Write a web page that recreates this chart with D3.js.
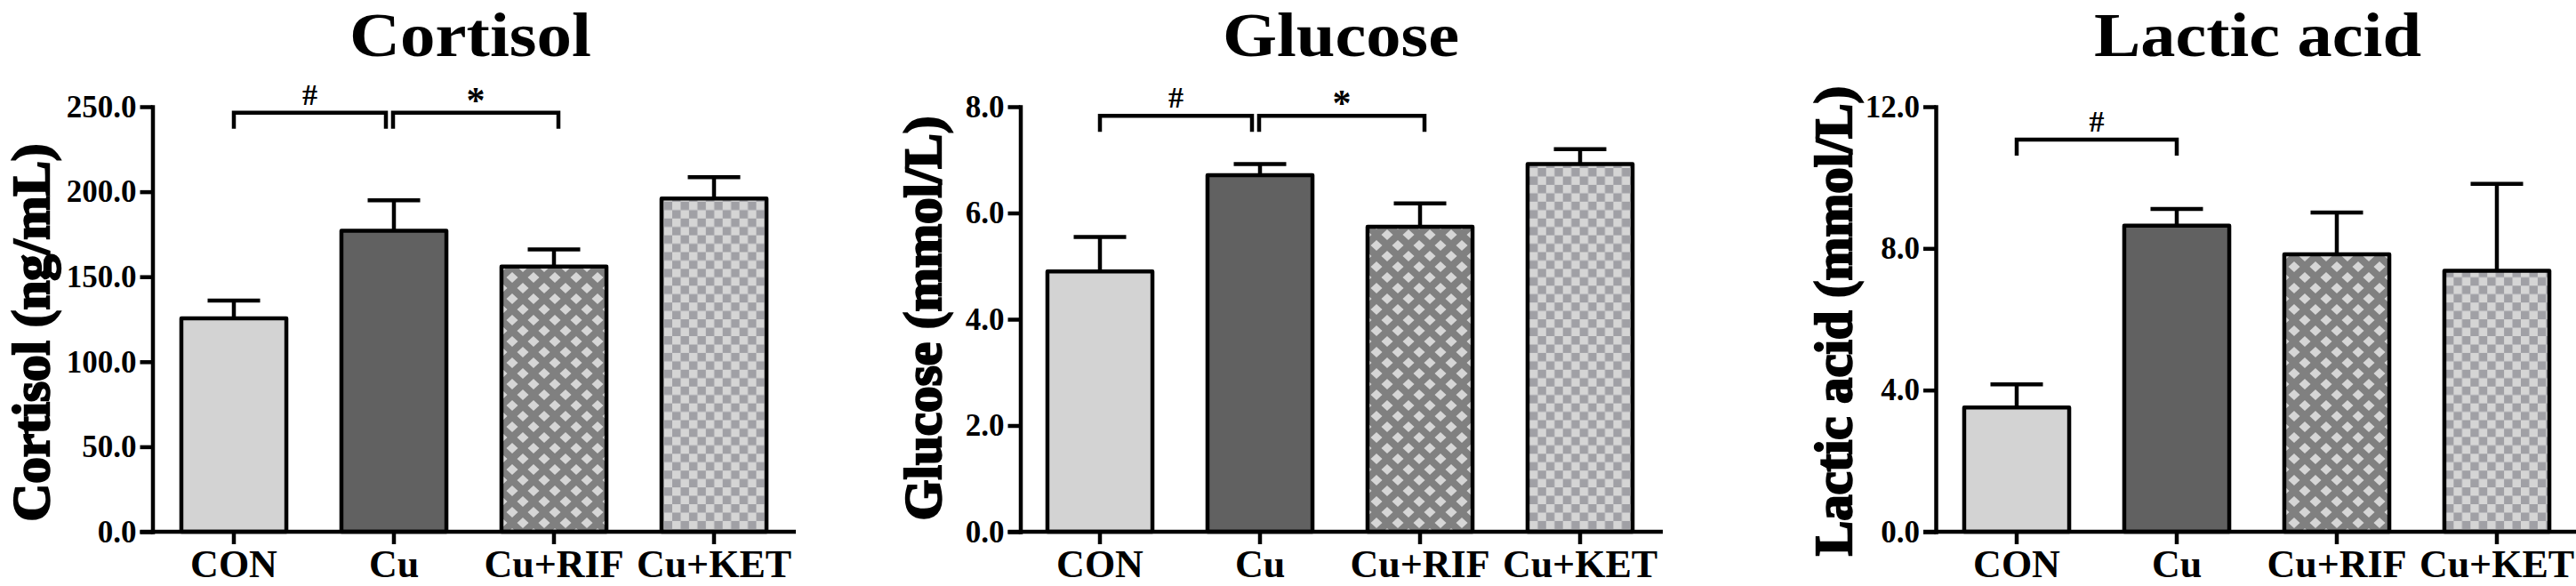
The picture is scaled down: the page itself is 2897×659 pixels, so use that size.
<!DOCTYPE html>
<html>
<head>
<meta charset="utf-8">
<script src="https://cdn.jsdelivr.net/npm/d3@7"></script>
<style>
  body { margin: 0; background: #fff; }
  svg { display: block; }
  text { font-family: "Liberation Serif", "Times New Roman", serif; font-weight: bold; fill: #000; }
</style>
</head>
<body>
<svg id="chart" width="2897" height="659"></svg>
<script>
// groups on the x axis
const groups = ["CON", "Cu", "Cu+RIF", "Cu+KET"];

// cortisol (ng/mL), mean and SEM
const cortisolMean = [125.5, 177, 156, 196];
const cortisolErr = [10.5, 18, 10, 12.5];
const cortisolTicks = [0, 50, 100, 150, 200, 250];
const cortisolSig = [
  { from: "CON", to: "Cu", mark: "#", level: 246.5 },
  { from: "Cu", to: "Cu+RIF", mark: "*", level: 246.5 }
];

// glucose (mmol/L)
const glucoseMean = [4.9, 6.71, 5.74, 6.92];
const glucoseErr = [0.65, 0.21, 0.44, 0.28];
const glucoseTicks = [0, 2, 4, 6, 8];
const glucoseSig = [
  { from: "CON", to: "Cu", mark: "#", level: 7.83 },
  { from: "Cu", to: "Cu+RIF", mark: "*", level: 7.83 }
];

// lactic acid (mmol/L)
const lacticMean = [3.51, 8.64, 7.83, 7.37];
const lacticErr = [0.65, 0.47, 1.18, 2.45];
const lacticTicks = [0, 4, 8, 12];
const lacticSig = [
  { from: "CON", to: "Cu", mark: "#", level: 11.07 }
];

// layout of the three panels (positions in px)
const panels = [
  { title: "Cortisol", yLabel: "Cortisol (ng/mL)", mean: cortisolMean, err: cortisolErr, ticks: cortisolTicks, sig: cortisolSig,
    axisX: 171.5, x0: 173, titleX: 529, titleLen: 272, labelX: 55, labelY: 374, labelLen: 425, axisEnd: 895 },
  { title: "Glucose", yLabel: "Glucose (mmol/L)", mean: glucoseMean, err: glucoseErr, ticks: glucoseTicks, sig: glucoseSig,
    axisX: 1147.5, x0: 1147, titleX: 1508, titleLen: 266, labelX: 1058, labelY: 358, labelLen: 455, axisEnd: 1870 },
  { title: "Lactic acid", yLabel: "Lactic acid (mmol/L)", mean: lacticMean, err: lacticErr, ticks: lacticTicks, sig: lacticSig,
    axisX: 2177, x0: 2178, titleX: 2539, titleLen: 368, labelX: 2082, labelY: 361, labelLen: 528, axisEnd: 2897 }
];

const yTop = 120, yBottom = 598, step = 180, lw = 4.5;
const fills = ["#d3d3d3", "#616161", "url(#diamonds)", "url(#checks)"];

const svg = d3.select("#chart");
svg.append("rect").attr("width", 2897).attr("height", 659).attr("fill", "#fff");

// hatch patterns for the last two groups
const defs = svg.append("defs");
const dia = defs.append("pattern").attr("id", "diamonds")
  .attr("patternUnits", "userSpaceOnUse").attr("width", 24).attr("height", 24);
dia.append("rect").attr("width", 24).attr("height", 24).attr("fill", "#808080");
[[12, 12], [0, 0], [24, 0], [0, 24], [24, 24]].forEach(([cx, cy]) => {
  dia.append("path")
    .attr("d", `M${cx - 6.5},${cy}L${cx},${cy - 6}L${cx + 6.5},${cy}L${cx},${cy + 6}Z`)
    .attr("fill", "#d6d6d6");
});
const chk = defs.append("pattern").attr("id", "checks")
  .attr("patternUnits", "userSpaceOnUse").attr("width", 18.9).attr("height", 18.9);
chk.append("rect").attr("width", 18.9).attr("height", 18.9).attr("fill", "#d5d5d5");
chk.append("rect").attr("x", 9.45).attr("width", 9.45).attr("height", 9.45).attr("fill", "#a0a0a5");
chk.append("rect").attr("y", 9.45).attr("width", 9.45).attr("height", 9.45).attr("fill", "#a0a0a5");

panels.forEach(p => {
  const g = svg.append("g");
  const x = d3.scaleBand().domain(groups)
    .range([p.x0, p.x0 + step * groups.length])
    .paddingInner(0.344).paddingOuter(0.172);
  const y = d3.scaleLinear().domain([0, d3.max(p.ticks)]).range([yBottom, yTop]);

  // title
  g.append("text").attr("x", p.titleX).attr("y", 63)
    .attr("text-anchor", "middle").attr("font-size", 70)
    .attr("textLength", p.titleLen).attr("lengthAdjust", "spacingAndGlyphs")
    .text(p.title);

  // y label
  g.append("text")
    .attr("transform", `translate(${p.labelX},${p.labelY}) rotate(-90)`)
    .attr("text-anchor", "middle").attr("font-size", 60)
    .attr("stroke", "#000").attr("stroke-width", 2.4)
    .attr("textLength", p.labelLen).attr("lengthAdjust", "spacingAndGlyphs")
    .text(p.yLabel);

  // error bars
  const cap = 29.5;
  groups.forEach((k, i) => {
    const cx = x(k) + x.bandwidth() / 2;
    const top = y(p.mean[i] + p.err[i]);
    g.append("line").attr("x1", cx).attr("x2", cx)
      .attr("y1", y(p.mean[i])).attr("y2", top)
      .attr("stroke", "#000").attr("stroke-width", lw);
    g.append("line").attr("x1", cx - cap).attr("x2", cx + cap)
      .attr("y1", top).attr("y2", top)
      .attr("stroke", "#000").attr("stroke-width", lw);
  });

  // bars
  g.selectAll("rect.bar").data(groups).join("rect")
    .attr("class", "bar")
    .attr("x", d => x(d)).attr("width", x.bandwidth())
    .attr("y", (d, i) => y(p.mean[i]))
    .attr("height", (d, i) => yBottom - y(p.mean[i]))
    .attr("fill", (d, i) => fills[i])
    .attr("stroke", "#000").attr("stroke-width", lw)
    .attr("stroke-linejoin", "round");

  // y axis
  const ya = g.append("g").attr("transform", `translate(${p.axisX},0)`)
    .call(d3.axisLeft(y).tickValues(p.ticks).tickFormat(d3.format(".1f"))
      .tickSize(14).tickSizeOuter(0).tickPadding(4));
  ya.select(".domain").attr("stroke-width", lw).attr("stroke-linecap", "square");
  ya.selectAll(".tick line").attr("stroke-width", lw);
  ya.selectAll(".tick text").attr("font-size", 35)
    .attr("font-family", "Liberation Serif, serif").attr("font-weight", "bold");

  // x axis
  const xa = g.append("g").attr("transform", `translate(0,${yBottom})`)
    .call(d3.axisBottom(x).tickSize(14).tickSizeOuter(0));
  xa.select(".domain").remove();
  xa.selectAll(".tick line").attr("stroke-width", lw);
  xa.selectAll(".tick text").attr("font-size", 44).attr("y", 51).attr("dy", 0)
    .attr("font-family", "Liberation Serif, serif").attr("font-weight", "bold");
  g.append("line").attr("x1", p.axisX - 14).attr("x2", p.axisEnd)
    .attr("y1", yBottom).attr("y2", yBottom)
    .attr("stroke", "#000").attr("stroke-width", lw);

  // significance brackets
  p.sig.forEach((s, j) => {
    const shared = p.sig.length > 1;
    let xa1 = x(s.from) + x.bandwidth() / 2;
    let xa2 = x(s.to) + x.bandwidth() / 2;
    if (shared && j === 0) xa2 -= 9;
    if (shared && j === 1) { xa1 -= 1; xa2 += 5; }
    const yl = y(s.level);
    g.append("path")
      .attr("d", `M${xa1},${yl + 18}V${yl}H${xa2}V${yl + 18}`)
      .attr("fill", "none").attr("stroke", "#000").attr("stroke-width", lw);
    g.append("text")
      .attr("x", (xa1 + xa2) / 2)
      .attr("y", s.mark === "*" ? yl + 0 : yl - 9)
      .attr("text-anchor", "middle")
      .attr("font-size", s.mark === "*" ? 42 : 34)
      .text(s.mark);
  });
});
</script>
</body>
</html>
